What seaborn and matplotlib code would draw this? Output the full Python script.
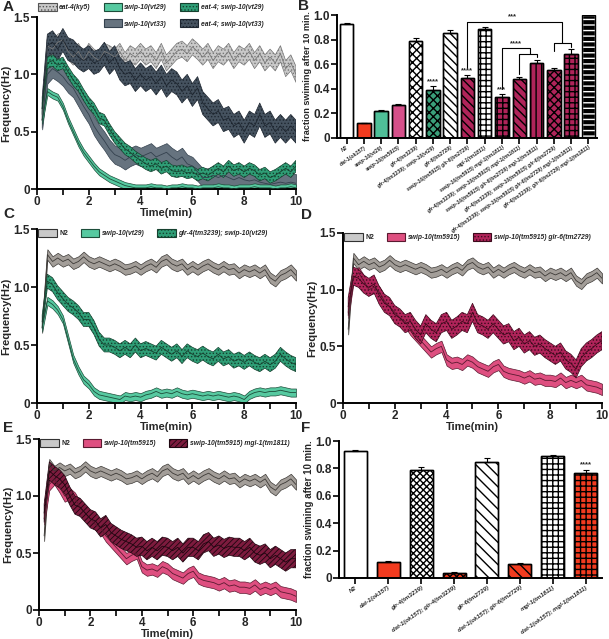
import numpy as np
import pandas as pd
import matplotlib
matplotlib.use("Agg")
import matplotlib.pyplot as plt
from matplotlib.patches import Patch
import seaborn as sns

sns.set_theme(style="ticks")
plt.rcParams['font.family'] = ['Liberation Sans', 'DejaVu Sans']
plt.rcParams['hatch.linewidth'] = 0.6

# ---------------- data ----------------
time_min = [0.2, 0.4, 0.6, 0.8, 1.0, 1.2, 1.4, 1.6, 1.8, 2.0,
            2.2, 2.4, 2.6, 2.8, 3.0, 3.2, 3.4, 3.6, 3.8, 4.0,
            4.2, 4.4, 4.6, 4.8, 5.0, 5.2, 5.4, 5.6, 5.8, 6.0,
            6.2, 6.4, 6.6, 6.8, 7.0, 7.2, 7.4, 7.6, 7.8, 8.0,
            8.2, 8.4, 8.6, 8.8, 9.0, 9.2, 9.4, 9.6, 9.8, 10.0]

# Panel A
eat4 = [0.60, 1.25, 1.22, 1.28, 1.30, 1.20, 1.15, 1.20, 1.12, 1.20,
        1.15, 1.12, 1.20, 1.18, 1.15, 1.20, 1.12, 1.18, 1.15, 1.20,
        1.15, 1.18, 1.12, 1.20, 1.10, 1.15, 1.20, 1.22, 1.18, 1.24,
        1.20, 1.15, 1.20, 1.12, 1.18, 1.15, 1.20, 1.12, 1.18, 1.15,
        1.20, 1.12, 1.18, 1.10, 1.15, 1.10, 1.18, 1.05, 1.10, 1.00]
eat4_vt33 = [0.70, 1.25, 1.28, 1.22, 1.30, 1.22, 1.20, 1.15, 1.12, 1.15,
             1.10, 1.12, 1.18, 1.10, 1.15, 1.05, 1.00, 1.02, 0.95, 1.00,
             0.95, 0.98, 0.92, 0.98, 0.90, 0.95, 0.92, 0.85, 0.90, 0.82,
             0.88, 0.75, 0.70, 0.65, 0.68, 0.60, 0.62, 0.55, 0.58, 0.50,
             0.58, 0.55, 0.65, 0.55, 0.58, 0.50, 0.55, 0.50, 0.55, 0.50]
swip_vt33 = [0.60, 1.00, 1.05, 1.02, 0.98, 0.92, 0.88, 0.80, 0.72, 0.65,
             0.55, 0.48, 0.42, 0.35, 0.30, 0.28, 0.25, 0.28, 0.30, 0.28,
             0.30, 0.32, 0.28, 0.30, 0.32, 0.28, 0.25, 0.28, 0.22, 0.20,
             0.15, 0.10, 0.10, 0.12, 0.10, 0.12, 0.10, 0.08, 0.10, 0.08,
             0.07, 0.08, 0.06, 0.05, 0.04, 0.05, 0.06, 0.05, 0.06, 0.05]
eat4_vt29 = [0.70, 1.10, 1.12, 1.08, 1.10, 1.02, 0.95, 0.90, 0.82, 0.75,
             0.70, 0.62, 0.60, 0.52, 0.45, 0.40, 0.35, 0.32, 0.28, 0.25,
             0.22, 0.20, 0.22, 0.18, 0.20, 0.16, 0.15, 0.16, 0.14, 0.15,
             0.12, 0.14, 0.12, 0.15, 0.18, 0.15, 0.20, 0.16, 0.18, 0.15,
             0.18, 0.16, 0.12, 0.14, 0.10, 0.12, 0.15, 0.18, 0.15, 0.20]
swip_vt29_A = [0.60, 0.85, 0.82, 0.80, 0.72, 0.60, 0.50, 0.40, 0.32, 0.26,
               0.20, 0.15, 0.12, 0.09, 0.07, 0.05, 0.03, 0.02, 0.01, 0.01,
               0.01, 0.02, 0.01, 0.01, 0.00, 0.01, 0.01, 0.02, 0.01, 0.01,
               0.00, 0.01, 0.01, 0.01, 0.02, 0.01, 0.01, 0.00, 0.01, 0.01,
               0.01, 0.02, 0.01, 0.01, 0.01, 0.00, 0.01, 0.01, 0.02, 0.01]
sem_A = {'eat4': 0.07, 'eat4_vt33': 0.10, 'swip_vt33': 0.08,
         'eat4_vt29': 0.05, 'swip_vt29_A': 0.03}

# Panels C-E
n2 = [0.65, 1.28, 1.22, 1.25, 1.22, 1.24, 1.20, 1.22, 1.26, 1.22,
      1.20, 1.22, 1.20, 1.18, 1.20, 1.18, 1.15, 1.16, 1.18, 1.15,
      1.18, 1.20, 1.17, 1.22, 1.24, 1.20, 1.18, 1.20, 1.15, 1.18,
      1.15, 1.18, 1.20, 1.17, 1.15, 1.18, 1.15, 1.16, 1.12, 1.15,
      1.13, 1.15, 1.12, 1.15, 1.08, 1.05, 1.10, 1.12, 1.15, 1.10]
glr4_vt29 = [0.70, 1.05, 1.02, 0.95, 0.90, 0.85, 0.82, 0.78, 0.72, 0.72,
             0.65, 0.55, 0.50, 0.50, 0.48, 0.45, 0.48, 0.45, 0.50, 0.45,
             0.47, 0.45, 0.43, 0.48, 0.45, 0.42, 0.45, 0.40, 0.45, 0.42,
             0.40, 0.43, 0.40, 0.38, 0.42, 0.38, 0.40, 0.36, 0.38, 0.35,
             0.38, 0.35, 0.33, 0.36, 0.33, 0.36, 0.42, 0.38, 0.35, 0.33]
swip_vt29_C = [0.65, 0.88, 0.85, 0.80, 0.72, 0.55, 0.38, 0.28, 0.20, 0.16,
               0.10, 0.07, 0.06, 0.05, 0.04, 0.03, 0.06, 0.05, 0.06, 0.05,
               0.07, 0.08, 0.10, 0.08, 0.09, 0.08, 0.10, 0.08, 0.07, 0.08,
               0.07, 0.06, 0.07, 0.06, 0.07, 0.06, 0.05, 0.06, 0.05, 0.03,
               0.07, 0.09, 0.10, 0.09, 0.10, 0.10, 0.11, 0.10, 0.09, 0.09]
swip_tm5915 = [0.80, 1.10, 1.15, 1.08, 1.00, 1.02, 0.98, 0.90, 0.85, 0.80,
               0.75, 0.72, 0.65, 0.60, 0.55, 0.50, 0.45, 0.48, 0.50, 0.38,
               0.35, 0.36, 0.34, 0.38, 0.36, 0.32, 0.30, 0.28, 0.32, 0.34,
               0.28, 0.26, 0.25, 0.24, 0.22, 0.24, 0.21, 0.22, 0.20, 0.20,
               0.19, 0.22, 0.18, 0.20, 0.18, 0.20, 0.16, 0.15, 0.14, 0.12]
swip_glr6 = [0.85, 1.12, 1.10, 1.05, 1.02, 1.05, 0.95, 0.88, 0.85, 0.78,
             0.75, 0.70, 0.72, 0.65, 0.60, 0.70, 0.65, 0.62, 0.70, 0.72,
             0.65, 0.68, 0.72, 0.70, 0.80, 0.70, 0.68, 0.65, 0.70, 0.65,
             0.60, 0.62, 0.55, 0.58, 0.52, 0.55, 0.50, 0.52, 0.48, 0.45,
             0.42, 0.45, 0.38, 0.35, 0.30, 0.40, 0.45, 0.48, 0.52, 0.55]
swip_mgl1 = [0.85, 1.22, 1.18, 1.15, 1.10, 1.00, 0.92, 0.90, 0.85, 0.80,
             0.78, 0.72, 0.75, 0.68, 0.65, 0.62, 0.60, 0.58, 0.55, 0.56,
             0.52, 0.55, 0.52, 0.56, 0.55, 0.52, 0.55, 0.50, 0.55, 0.55,
             0.52, 0.58, 0.60, 0.55, 0.57, 0.54, 0.56, 0.55, 0.55, 0.52,
             0.55, 0.50, 0.48, 0.50, 0.45, 0.48, 0.45, 0.42, 0.45, 0.45]
sem_CDE = {'n2': 0.045, 'glr4_vt29': 0.06, 'swip_vt29_C': 0.035,
           'swip_tm5915': 0.05, 'swip_glr6': 0.08, 'swip_mgl1': 0.08}

# Panel B
B_labels = ["N2", "dat-1(ok157)", "swip-10(vt29)", "swip-10(tm5915)", "glr-4(tm3239)",
            "glr-4(tm3239); swip-10(vt29)", "glr-6(tm2729)", "swip-10(tm5915) glr-6(tm2729)",
            "mgl-1(tm1811)", "swip-10(tm5915) mgl-1(tm1811)",
            "glr-4(tm3239); swip-10(tm5915) mgl-1(tm1811)",
            "swip-10(tm5915) glr-6(tm2729) mgl-1(tm1811)",
            "glr-4(tm3239); swip-10(tm5915) glr-6(tm2729)",
            "glr-4(tm3239); swip-10(tm5915) glr-6(tm2729) mgl-1(tm1811)",
            "glr-4(tm3239); glr-6(tm2729) mgl-1(tm1811)"]
B_vals = [0.93, 0.12, 0.22, 0.27, 0.79, 0.39, 0.85, 0.49, 0.89, 0.33, 0.48, 0.61, 0.55, 0.68, 1.00]
B_err = [0.004, 0.004, 0.008, 0.01, 0.02, 0.03, 0.025, 0.02, 0.01, 0.03, 0.02, 0.025, 0.02, 0.04, 0.0]

# Panel F
F_labels = ["N2", "dat-1(ok157)", "glr-4(tm3239)", "dat-1(ok157); glr-4(tm3239)",
            "glr-6(tm2729)", "dat-1(ok157); glr-6(tm2729)", "mgl-1(tm1811)",
            "dat-1(ok157); mgl-1(tm1811)"]
F_vals = [0.93, 0.12, 0.79, 0.04, 0.85, 0.10, 0.89, 0.77]
F_err = [0.003, 0.003, 0.02, 0.005, 0.025, 0.01, 0.01, 0.02]

# ---------------- styles ----------------
GREEN = '#56c9a0'
GREEN_D = '#2f9e76'
SLATE = '#66737f'
SLATE_D = '#34414e'
LGRAY = '#c9c9c9'
N2GRAY = '#a39e99'
PINK = '#de4f80'
MAROON = '#b0245a'
DMAROON = '#7d1b3e'
RED = '#f23b1f'

fig = plt.figure(figsize=(6.09, 6.39), dpi=100)

def frac(l, b, r, t):
    return [l / 609, 1 - b / 639, (r - l) / 609, (b - t) / 639]

axA = fig.add_axes(frac(37, 189, 296, 17))
axB = fig.add_axes(frac(337, 138, 597, 15))
axC = fig.add_axes(frac(37, 403, 296, 229))
axD = fig.add_axes(frac(343, 403, 602, 233))
axE = fig.add_axes(frac(39, 610, 296, 439))
axF = fig.add_axes(frac(339, 578, 602, 441))

TICKFONT = dict(fontsize=8.5, fontweight='bold')

def style_line_ax(ax):
    ax.set_xlim(0, 10)
    ax.set_ylim(0, 1.5)
    ax.set_xticks(range(0, 11))
    ax.set_xticklabels([str(i) if i % 2 == 0 else '' for i in range(0, 11)], **TICKFONT)
    ax.set_yticks([0, 0.5, 1.0, 1.5])
    ax.set_yticklabels(['0', '0.5', '1.0', '1.5'], **TICKFONT)
    for s in ['top', 'right']:
        ax.spines[s].set_visible(False)
    for s in ['left', 'bottom']:
        ax.spines[s].set_linewidth(1.4)
        ax.spines[s].set_color('black')
    ax.tick_params(width=1.2, length=4, pad=1, color='black')
    ax.set_xlabel('Time(min)', fontsize=8, fontweight='bold', labelpad=0)
    ax.set_ylabel('Frequency(Hz)', fontsize=8, fontweight='bold', labelpad=2)
    ax.set_facecolor('white')

def band(ax, y, sem, face, edge, hatch=None):
    y = np.asarray(y)
    ax.fill_between(time_min, y - sem, y + sem, facecolor=face, edgecolor=edge,
                    hatch=hatch, linewidth=0.5, zorder=2)
    sns.lineplot(x=time_min, y=y, ax=ax, color=edge, lw=0.6, zorder=3)

def legend_handles(specs):
    hs = []
    for face, edge, hatch in specs:
        if face is None:
            hs.append(Patch(facecolor='none', edgecolor='none'))
        else:
            hs.append(Patch(facecolor=face, edgecolor=edge, hatch=hatch, linewidth=0.8))
    return hs

LEGKW = dict(frameon=False, prop={'size': 4.9, 'weight': 'bold', 'style': 'italic'},
             handlelength=2.7, handleheight=1.5, handletextpad=0.35, borderaxespad=0,
             borderpad=0.2, columnspacing=1.9, labelspacing=1.15)

# ---- Panel A ----
band(axA, eat4, sem_A['eat4'], LGRAY, '#777777', '.....')
band(axA, eat4_vt33, sem_A['eat4_vt33'], '#45525f', '#1e2630', '.....')
band(axA, swip_vt33, sem_A['swip_vt33'], SLATE, SLATE_D)
band(axA, eat4_vt29, sem_A['eat4_vt29'], GREEN_D, '#16412f', '.....')
band(axA, swip_vt29_A, sem_A['swip_vt29_A'], GREEN, '#1d4d3a')
style_line_ax(axA)
hA = legend_handles([(LGRAY, '#555555', '.....'), (None, None, None),
                     (GREEN, '#1d4d3a', None), (SLATE, SLATE_D, None),
                     (GREEN_D, '#16412f', '.....'), ('#45525f', '#1e2630', '.....')])
lA = ['eat-4(ky5)', '', 'swip-10(vt29)', 'swip-10(vt33)', 'eat-4; swip-10(vt29)', 'eat-4; swip-10(vt33)']
axA.legend(hA, lA, ncol=3, loc='upper left', bbox_to_anchor=(0.0, 1.09), **LEGKW)

# ---- Panel C ----
band(axC, n2, sem_CDE['n2'], N2GRAY, '#3d3a37')
band(axC, glr4_vt29, sem_CDE['glr4_vt29'], GREEN_D, '#16412f', '.....')
band(axC, swip_vt29_C, sem_CDE['swip_vt29_C'], GREEN, '#1d4d3a')
style_line_ax(axC)
hC = legend_handles([(LGRAY, '#333333', None), (GREEN, '#1d4d3a', None), (GREEN_D, '#16412f', '.....')])
legC = axC.legend(hC, ['N2', 'swip-10(vt29)', 'glr-4(tm3239); swip-10(vt29)'], ncol=3,
                  loc='upper left', bbox_to_anchor=(0.0, 1.01), **LEGKW)
legC.get_texts()[0].set_fontstyle('normal')

# ---- Panel D ----
band(axD, n2, sem_CDE['n2'], N2GRAY, '#3d3a37')
band(axD, swip_tm5915, sem_CDE['swip_tm5915'], PINK, '#5a1a30')
band(axD, swip_glr6, sem_CDE['swip_glr6'], MAROON, '#3d0a1c', '.....')
style_line_ax(axD)
hD = legend_handles([(LGRAY, '#333333', None), (PINK, '#5a1a30', None), (MAROON, '#3d0a1c', '.....')])
legD = axD.legend(hD, ['N2', 'swip-10(tm5915)', 'swip-10(tm5915) glr-6(tm2729)'], ncol=3,
                  loc='upper left', bbox_to_anchor=(0.0, 1.01), **LEGKW)
legD.get_texts()[0].set_fontstyle('normal')

# ---- Panel E ----
band(axE, n2, sem_CDE['n2'], N2GRAY, '#3d3a37')
band(axE, swip_tm5915, sem_CDE['swip_tm5915'], PINK, '#5a1a30')
band(axE, swip_mgl1, sem_CDE['swip_mgl1'], DMAROON, '#1e0610', '//////')
style_line_ax(axE)
hE = legend_handles([(LGRAY, '#333333', None), (PINK, '#5a1a30', None), (DMAROON, '#1e0610', '//////')])
legE = axE.legend(hE, ['N2', 'swip-10(tm5915)', 'swip-10(tm5915) mgl-1(tm1811)'], ncol=3,
                  loc='upper left', bbox_to_anchor=(0.0, 1.01), **LEGKW)
legE.get_texts()[0].set_fontstyle('normal')

# ---------------- bar panels ----------------
B_face = ['white', RED, '#4fbf98', '#d6508a', 'white', '#3aa07a', 'white', MAROON,
          'white', MAROON, MAROON, MAROON, MAROON, MAROON, 'black']
B_hatch = [None, None, None, None, 'xxxx', 'xxxx', '\\\\\\\\', '\\\\\\\\',
           '+++', '+++', '\\\\\\\\', '|||', 'xxxx', '+++', '---']
F_face = ['white', RED, 'white', RED, 'white', RED, 'white', RED]
F_hatch = [None, None, 'xxxxx', 'xxxxx', '\\\\\\', '\\\\\\', '+++', '+++']

def style_bar_ax(ax, labels, fs, ylfs):
    ax.set_ylim(0, 1.0)
    ax.set_yticks([0, 0.2, 0.4, 0.6, 0.8, 1.0])
    ax.set_yticklabels(['0', '0.2', '0.4', '0.6', '0.8', '1.0'], **TICKFONT)
    ax.set_xticks(range(len(labels)))
    ax.set_xticklabels(labels, rotation=35, ha='right', rotation_mode='anchor',
                       fontsize=fs, fontstyle='italic', fontweight='bold')
    for s in ['top', 'right']:
        ax.spines[s].set_visible(False)
    for s in ['left', 'bottom']:
        ax.spines[s].set_linewidth(1.4)
        ax.spines[s].set_color('black')
    ax.tick_params(width=1.2, length=4, pad=1, color='black')
    ax.set_xlabel('')
    ax.set_ylabel('fraction swiming after 10 min.', fontsize=ylfs, fontweight='bold', labelpad=1)
    ax.set_facecolor('white')

def draw_bars(ax, labels, vals, errs, faces, hatches, width):
    df = pd.DataFrame({'genotype': labels, 'fraction': vals})
    sns.barplot(data=df, x='genotype', y='fraction', ax=ax, width=width,
                errorbar=None, color='white', saturation=1, zorder=2)
    for i, p in enumerate(ax.patches):
        p.set_facecolor(faces[i])
        h = hatches[i]
        if faces[i] == 'black':
            p.set_edgecolor('white')
        else:
            p.set_edgecolor('black')
        if h:
            p.set_hatch(h)
        p.set_linewidth(1.0)
    # outlines on top (black)
    sns.barplot(data=df, x='genotype', y='fraction', ax=ax, width=width,
                errorbar=None, fill=False, color='black', saturation=1, zorder=3)
    for p in ax.patches[len(labels):]:
        p.set_edgecolor('black')
        p.set_linewidth(1.0)
        p.set_facecolor('none')
    ax.errorbar(range(len(labels)), vals, yerr=[[0] * len(errs), errs], fmt='none',
                ecolor='black', elinewidth=0.8, capsize=2.5, capthick=0.8, zorder=4)

with plt.rc_context({'hatch.linewidth': 1.0}):
    draw_bars(axB, B_labels, B_vals, B_err, B_face, B_hatch, 0.78)
    draw_bars(axF, F_labels, F_vals, F_err, F_face, F_hatch, 0.7)
style_bar_ax(axB, B_labels, 3.8, 6.6)
style_bar_ax(axF, F_labels, 4.3, 7)
axB.set_xlim(-0.55, 14.5)
axF.set_xlim(-0.5, 7.5)

# significance annotations (panel B)
star_kw = dict(ha='center', va='bottom', fontsize=5.5, fontweight='bold')
axB.text(5, 0.425, '****', **star_kw)
axB.text(7, 0.515, '****', **star_kw)
axB.text(9, 0.365, '***', **star_kw)
axB.plot([7, 7, 12.5, 12.5], [0.57, 0.945, 0.945, 0.77], color='black', lw=0.8)
axB.plot([12, 12, 13, 13], [0.71, 0.77, 0.77, 0.74], color='black', lw=0.8)
axB.text(9.6, 0.955, '***', **star_kw)
axB.plot([9, 9, 10.6, 10.6], [0.40, 0.73, 0.73, 0.685], color='black', lw=0.8)
axB.plot([10, 10, 11, 11], [0.52, 0.685, 0.685, 0.655], color='black', lw=0.8)
axB.text(9.8, 0.74, '****', **star_kw)
# panel F
axF.text(7, 0.80, '****', **star_kw)

# panel letters
for x, y, s in [(3, 0, 'A'), (298, -1, 'B'), (3, 207, 'C'), (301, 208, 'D'),
                (3, 421, 'E'), (301, 421, 'F')]:
    fig.text(x / 609, 1 - y / 639, s, fontsize=11, fontweight='bold', va='top', ha='left')

fig.savefig('out.png', dpi=100, facecolor='white')
